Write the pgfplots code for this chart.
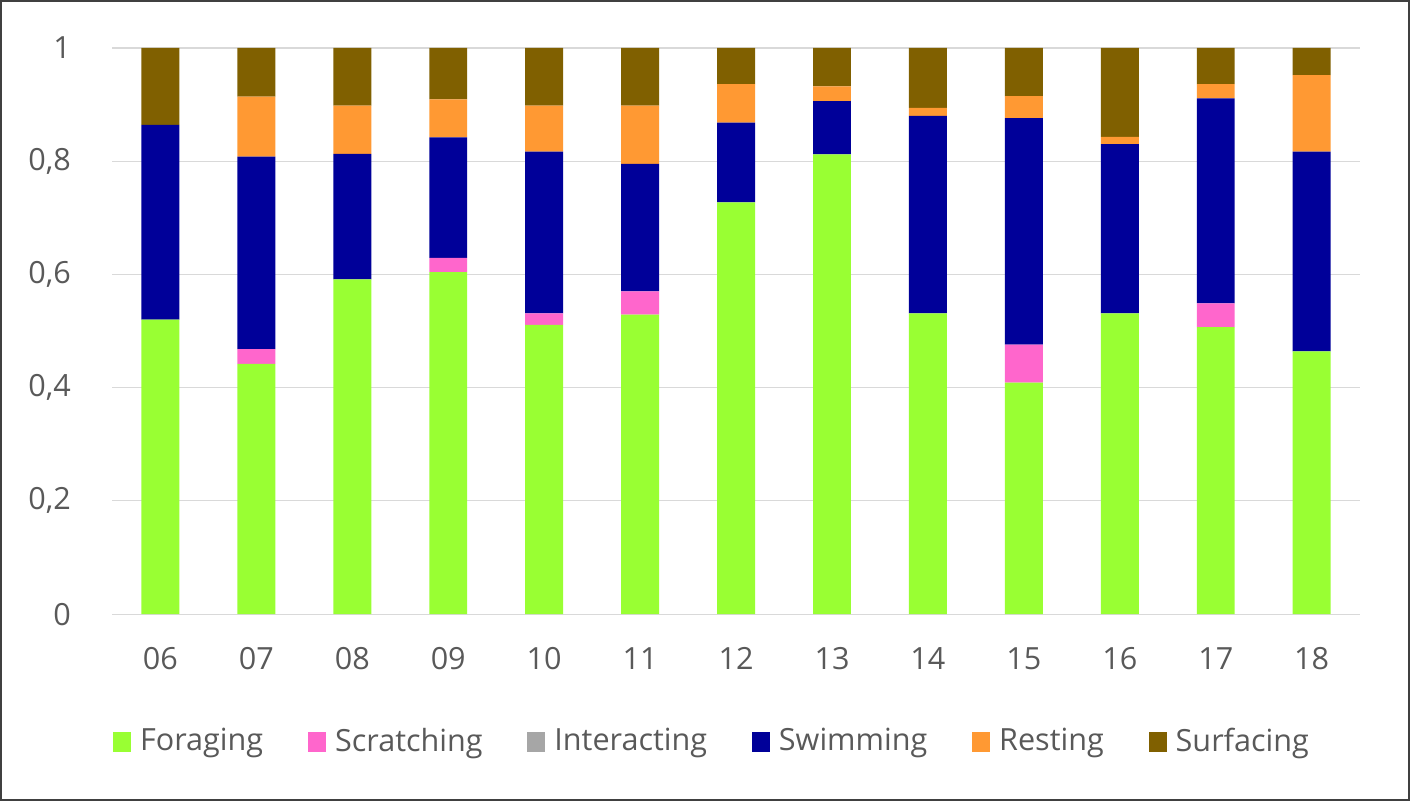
\documentclass[border=0pt]{standalone}
\usepackage{pgfplots}
\pgfplotsset{compat=1.18}
\usepackage{pgfplotstable}
\usepackage{fontspec}
\setmainfont{Open Sans}
\definecolor{cFor}{RGB}{153,255,51}
\definecolor{cScr}{RGB}{255,102,204}
\definecolor{cInt}{RGB}{166,166,166}
\definecolor{cSwi}{RGB}{0,0,153}
\definecolor{cRes}{RGB}{255,153,51}
\definecolor{cSur}{RGB}{128,96,0}
\definecolor{txt}{RGB}{89,89,89}
\definecolor{grd}{RGB}{217,217,217}
\pgfplotstableread{
x F S I Sw R Su
0 0.520 0 0 0.344 0 0.136
1 0.442 0.026 0 0.340 0.106 0.086
2 0.591 0 0 0.222 0.085 0.102
3 0.604 0.025 0 0.213 0.067 0.091
4 0.511 0.020 0 0.286 0.081 0.102
5 0.529 0.041 0 0.225 0.103 0.102
6 0.727 0 0 0.141 0.068 0.064
7 0.812 0 0 0.094 0.026 0.068
8 0.531 0 0 0.349 0.014 0.106
9 0.409 0.067 0 0.400 0.039 0.085
10 0.531 0 0 0.299 0.013 0.157
11 0.507 0.042 0 0.362 0.025 0.064
12 0.464 0 0 0.353 0.135 0.048
}\datatable
\begin{document}
\begin{tikzpicture}
\fontsize{15.3}{18}\selectfont
\draw[black!75, line width=1pt] (0,0) rectangle (705pt,400pt);
\begin{axis}[
  at={(55.8pt,93pt)}, anchor=south west,
  scale only axis, width=624.5pt, height=283.5pt,
  ybar stacked, bar width=19pt,
  xmin=-0.5, xmax=12.5, ymin=0, ymax=1,
  xtick={0,...,12},
  xticklabels={06,07,08,09,10,11,12,13,14,15,16,17,18},
  ytick={0,0.2,0.4,0.6,0.8,1},
  /pgf/number format/fixed,
  /pgf/number format/precision=1,
  /pgf/number format/use comma,
  /pgf/number format/assume math mode=true,
  yticklabel style={text=txt, font=\fontsize{15.3}{18}\selectfont, xshift=-15.5pt},
  xticklabel style={text=txt, font=\fontsize{15.3}{18}\selectfont, yshift=-11.5pt},
  major tick length=0pt,
  axis line style={draw=none},
  ymajorgrids, grid style={grd, line width=0.6pt},
  legend columns=6,
  legend style={at={(0.4815,-0.2257)}, anchor=center, draw=none, fill=none,
    font=\fontsize{15.3}{18}\selectfont, text=txt,
    /tikz/every odd column/.append style={column sep=2.5pt},
    /tikz/every even column/.append style={column sep=20.5pt}},
  legend image code/.code={\fill[#1] (0pt,-4.8pt) rectangle (9pt,4.8pt);},
]
\addplot[fill=cFor, draw=none] table[x=x, y=F] {\datatable};
\addplot[fill=cScr, draw=none] table[x=x, y=S] {\datatable};
\addplot[fill=cInt, draw=none] table[x=x, y=I] {\datatable};
\addplot[fill=cSwi, draw=none] table[x=x, y=Sw] {\datatable};
\addplot[fill=cRes, draw=none] table[x=x, y=R] {\datatable};
\addplot[fill=cSur, draw=none] table[x=x, y=Su] {\datatable};
\legend{Foraging, Scratching, Interacting, Swimming, Resting, Surfacing}
\end{axis}
\end{tikzpicture}
\end{document}
